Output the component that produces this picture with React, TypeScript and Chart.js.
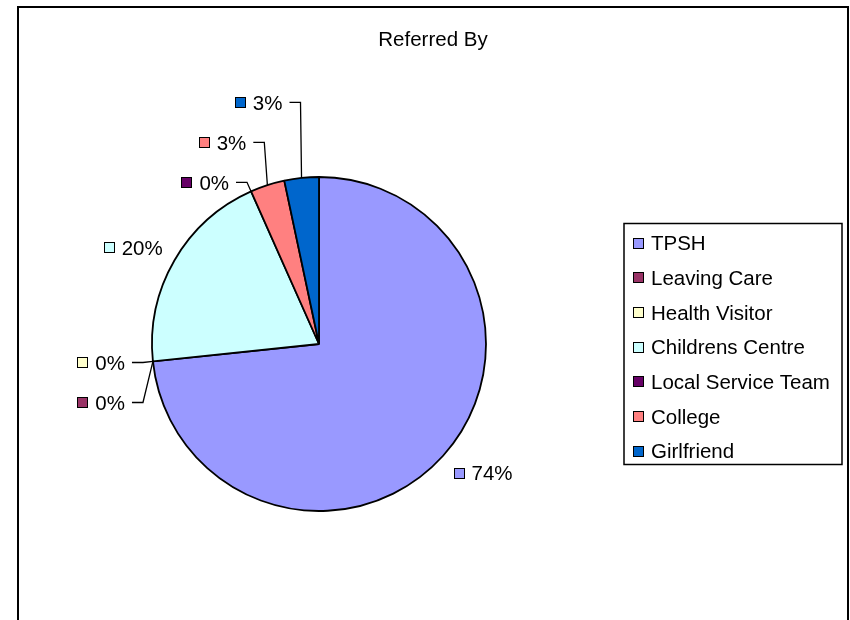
import React, { useEffect, useRef } from 'react';
import { Chart, registerables } from 'chart.js';

Chart.register(...registerables);

const chartTitle = 'Referred By';
const categories = [
  'TPSH',
  'Leaving Care',
  'Health Visitor',
  'Childrens Centre',
  'Local Service Team',
  'College',
  'Girlfriend',
];
const referralCounts = [22, 0, 0, 6, 0, 1, 1];
const percentLabels = ['74%', '0%', '0%', '20%', '0%', '3%', '3%'];
const sliceColors = ['#9999FF', '#993366', '#FFFFCC', '#CCFFFF', '#660066', '#FF8080', '#0066CC'];

const FONT = '"Liberation Sans", Arial, Helvetica, sans-serif';
const FONT_SIZE = 20.5;
const CAP_HALF = (FONT_SIZE * 0.716) / 2;

const titlePlugin = {
  id: 'centeredTitle',
  afterDraw(chart: any, _args: any, opts: any) {
    const ctx = chart.ctx as CanvasRenderingContext2D;
    ctx.save();
    ctx.font = `${FONT_SIZE}px ${FONT}`;
    ctx.fillStyle = '#000';
    ctx.textAlign = 'center';
    ctx.textBaseline = 'alphabetic';
    ctx.fillText(opts.text, chart.width / 2, opts.centerY + CAP_HALF);
    ctx.restore();
  },
};

const pieLabelPlugin = {
  id: 'pieLabels',
  afterDatasetsDraw(chart: any) {
    const ctx = chart.ctx as CanvasRenderingContext2D;
    const meta = chart.getDatasetMeta(0);
    const data = chart.data.datasets[0].data as number[];
    const colors = chart.data.datasets[0].backgroundColor as string[];
    const gap = 10;
    const shift = 16;
    const spacing = 40;

    const items = meta.data.map((el: any, i: number) => {
      const { x, y, startAngle, endAngle, outerRadius } = el.getProps(
        ['x', 'y', 'startAngle', 'endAngle', 'outerRadius'],
        true
      );
      const mid = (startAngle + endAngle) / 2;
      const dx = Math.cos(mid);
      const dy = Math.sin(mid);
      const px = x + (outerRadius + gap) * dx;
      const py = y + (outerRadius + gap) * dy;
      const idealY = py + (data[i] > 0 ? dy * shift : 0);
      return {
        i,
        mid,
        cy: y,
        ax: x + outerRadius * dx,
        ay: y + outerRadius * dy,
        px,
        idealY,
        y: idealY,
        left: dx < 0,
      };
    });

    const resolve = (list: any[]) => {
      if (!list.length) return;
      const cy = list[0].cy;
      const above = list.filter((it) => it.idealY < cy);
      const below = list.filter((it) => it.idealY >= cy);
      for (let k = above.length - 2; k >= 0; k--) {
        above[k].y = Math.min(above[k].idealY, above[k + 1].y - spacing);
      }
      for (let k = 1; k < below.length; k++) {
        below[k].y = Math.max(below[k].idealY, below[k - 1].y + spacing);
      }
    };

    const leftItems = items
      .filter((it: any) => it.left)
      .sort((a: any, b: any) => b.mid - a.mid || b.i - a.i);
    const rightItems = items
      .filter((it: any) => !it.left)
      .sort((a: any, b: any) => a.mid - b.mid || a.i - b.i);
    resolve(leftItems);
    resolve(rightItems);

    const sw = 11;
    const swGap = 7;
    ctx.save();
    ctx.font = `${FONT_SIZE}px ${FONT}`;
    ctx.textBaseline = 'alphabetic';
    ctx.textAlign = 'left';
    for (const it of items) {
      const text = percentLabels[it.i];
      const w = ctx.measureText(text).width;
      const leader = data[it.i] === 0 || Math.abs(it.y - it.idealY) > 0.5;
      let textX: number;
      let swX: number;
      let lineStart: number;
      if (it.left) {
        const textEnd = it.px - (leader ? 18 : 3);
        textX = textEnd - w;
        swX = textX - swGap - sw;
        lineStart = textEnd + 7;
      } else {
        swX = it.px + (leader ? 18 : 3);
        textX = swX + sw + swGap;
        lineStart = swX - 7;
      }
      const sx = Math.round(swX);
      const sy = Math.round(it.y - sw / 2);
      ctx.fillStyle = colors[it.i];
      ctx.fillRect(sx, sy, sw, sw);
      ctx.strokeStyle = '#000';
      ctx.lineWidth = 1;
      ctx.strokeRect(sx + 0.5, sy + 0.5, sw - 1, sw - 1);

      ctx.fillStyle = '#000';
      ctx.fillText(text, textX, it.y + CAP_HALF);

      if (leader) {
        ctx.beginPath();
        ctx.lineWidth = 1.3;
        ctx.moveTo(lineStart, it.y);
        ctx.lineTo(it.px, it.y);
        ctx.lineTo(it.ax, it.ay);
        ctx.stroke();
      }
    }
    ctx.restore();
  },
};

const boxLegendPlugin = {
  id: 'boxLegend',
  afterDraw(chart: any, _args: any, opts: any) {
    const ctx = chart.ctx as CanvasRenderingContext2D;
    const labels = chart.data.labels as string[];
    const colors = chart.data.datasets[0].backgroundColor as string[];
    const { left, top, width, height, firstRow, rowHeight, swatchX, textX, swatch } = opts;
    ctx.save();
    ctx.strokeStyle = '#000';
    ctx.lineWidth = 1.5;
    ctx.strokeRect(left, top, width, height);
    ctx.font = `${FONT_SIZE}px ${FONT}`;
    ctx.textBaseline = 'alphabetic';
    ctx.textAlign = 'left';
    labels.forEach((label, i) => {
      const cy = top + firstRow + i * rowHeight;
      const sx = Math.round(left + swatchX);
      const sy = Math.round(cy - swatch / 2);
      ctx.fillStyle = colors[i];
      ctx.fillRect(sx, sy, swatch, swatch);
      ctx.lineWidth = 1;
      ctx.strokeRect(sx + 0.5, sy + 0.5, swatch - 1, swatch - 1);
      ctx.fillStyle = '#000';
      ctx.fillText(label, left + textX, cy + CAP_HALF);
    });
    ctx.restore();
  },
};

export default function App() {
  const canvasRef = useRef<HTMLCanvasElement>(null);

  useEffect(() => {
    if (!canvasRef.current) return;
    const chart = new Chart(canvasRef.current, {
      type: 'pie',
      data: {
        labels: categories,
        datasets: [
          {
            data: referralCounts,
            backgroundColor: sliceColors,
            borderColor: '#000',
            borderWidth: 1.8,
            radius: 167,
          } as any,
        ],
      },
      options: {
        responsive: false,
        maintainAspectRatio: false,
        devicePixelRatio: 1,
        animation: false,
        events: [],
        layout: { padding: { left: 0, right: 228, top: 43, bottom: 27 } },
        plugins: {
          legend: { display: false },
          tooltip: { enabled: false },
          title: { display: false },
          centeredTitle: { text: chartTitle, centerY: 31 },
          boxLegend: {
            left: 605,
            top: 215.5,
            width: 218,
            height: 241,
            firstRow: 19.5,
            rowHeight: 34.67,
            swatchX: 9,
            textX: 27,
            swatch: 11,
          },
        } as any,
      },
      plugins: [titlePlugin, pieLabelPlugin, boxLegendPlugin],
    });
    return () => chart.destroy();
  }, []);

  return (
    <div
      style={{
        position: 'fixed',
        left: 0,
        top: 0,
        width: 850,
        height: 620,
        overflow: 'hidden',
        background: '#fff',
      }}
    >
      <div
        style={{
          position: 'absolute',
          left: 17,
          top: 6,
          width: 832,
          height: 660,
          border: '2px solid #000',
          boxSizing: 'border-box',
        }}
      >
        <canvas
          ref={canvasRef}
          width={828}
          height={656}
          style={{ display: 'block', width: 828, height: 656 }}
        />
      </div>
    </div>
  );
}
